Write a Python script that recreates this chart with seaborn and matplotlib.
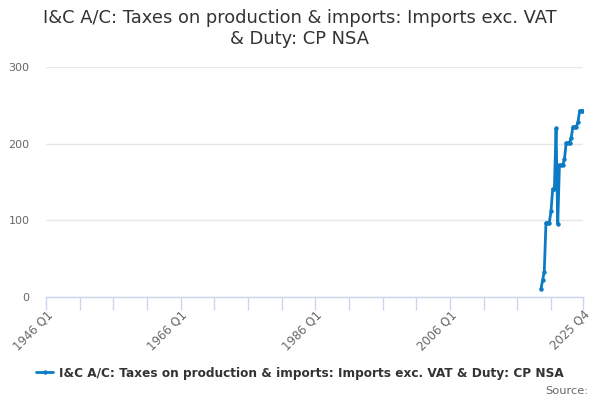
import pandas as pd
import matplotlib.pyplot as plt
import seaborn as sns

# Data, quarterly, £m
periods = pd.period_range("2019Q3", "2025Q4", freq="Q")
values = [10, 22, 33, 97, 97, 97, 112, 141, 141, 220, 95, 172, 172,
          172, 180, 201, 201, 201, 208, 222, 222, 222, 228, 243, 243, 243]

tick_labels = ["1946 Q1", "1966 Q1", "1986 Q1", "2006 Q1", "2025 Q4"]
y_ticks = [0, 100, 200, 300]

series_name = "I&C A/C: Taxes on production & imports: Imports exc. VAT & Duty: CP NSA"

def q_index(p):
    # quarters since 1946 Q1
    return (p.year - 1946) * 4 + (p.quarter - 1)

df = pd.DataFrame({
    "x": [q_index(p) for p in periods],
    "value": values,
})

sns.set_style("white")
plt.rcParams["font.family"] = ["DejaVu Sans"]

fig = plt.figure(figsize=(6, 4), dpi=100)
ax = fig.add_axes([46 / 600, 103 / 400, (583 - 46) / 600, (297 - 67) / 400])

line_color = "#0a7bc4"
sns.lineplot(data=df, x="x", y="value", ax=ax, color=line_color,
             linewidth=2, marker="o", markersize=3.2,
             markeredgewidth=0, label=series_name)

last_idx = q_index(pd.Period("2025Q4", freq="Q"))
ax.set_xlim(0, last_idx)
ax.set_ylim(0, 300)

# x ticks: every 5 years plus the final quarter, labels every 20 years
minor = list(range(0, last_idx, 20)) + [last_idx]
ax.set_xticks(minor)
label_pos = [0, 80, 160, 240, last_idx]
ax.set_xticklabels([tick_labels[label_pos.index(t)] if t in label_pos else ""
                    for t in minor], rotation=45, ha="right",
                   rotation_mode="anchor", fontsize=8.4, color="#666666")
ax.tick_params(axis="x", bottom=True, length=9, width=1, color="#ccd6eb", pad=-1)

ax.set_yticks(y_ticks)
ax.set_yticklabels([str(v) for v in y_ticks], fontsize=8, color="#666666")
ax.tick_params(axis="y", left=False, length=0, pad=12)
ax.yaxis.grid(True, color="#e6e6e6", linewidth=1)
ax.set_axisbelow(True)

for s in ["top", "right", "left"]:
    ax.spines[s].set_visible(False)
ax.spines["bottom"].set_color("#ccd6eb")
ax.spines["bottom"].set_linewidth(1)

ax.set_xlabel("")
ax.set_ylabel("")

fig.suptitle("I&C A/C: Taxes on production & imports: Imports exc. VAT\n& Duty: CP NSA",
             x=0.5, y=0.978, fontsize=12.9, color="#333333", linespacing=1.22)

leg = ax.legend(loc="center", bbox_to_anchor=(0.5, (400 - 373) / 400),
                bbox_transform=fig.transFigure, frameon=False,
                handlelength=1.4, handletextpad=0.5,
                prop={"size": 8.7, "weight": "bold"})
for t in leg.get_texts():
    t.set_color("#333333")

fig.text(588 / 600, (400 - 391) / 400, "Source:", ha="right", va="center",
         fontsize=8.2, color="#666666")

fig.savefig("out.png", dpi=100)
